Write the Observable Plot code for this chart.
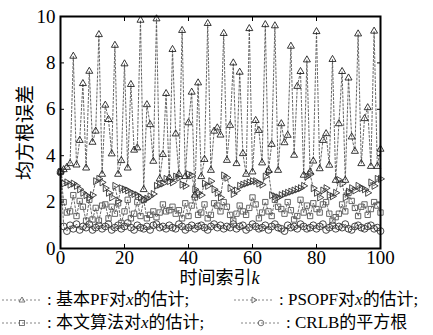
<!DOCTYPE html>
<html>
<head>
<meta charset="utf-8">
<script src="https://cdn.jsdelivr.net/npm/d3@7"></script>
<script src="https://cdn.jsdelivr.net/npm/@observablehq/plot@0.6"></script>
<style>
  body { margin: 0; background: #fff; }
  #wrap { width: 433px; font-family: "Liberation Serif", "Noto Sans CJK SC", serif; color: #000; }
  #xtitle { text-align: center; font-size: 18px; line-height: 20px; margin-top: -2px; padding-left: 6px; }
  .row { display: flex; font-size: 17px; line-height: 22px; height: 23px; white-space: nowrap; }
  .cell { display: flex; align-items: center; }
  .cell svg { margin-right: 3px; }
</style>
</head>
<body>
<div id="wrap">
  <div id="chart"></div>
  <div id="xtitle">时间索引<i>k</i></div>
  <div id="legend"></div>
</div>
<script>
const kIndex = d3.range(0, 101);
const xTicks = [0, 20, 40, 60, 80, 100];
const yTicks = [0, 2, 4, 6, 8, 10];
const seriesNames = ["基本PF对x的估计", "PSOPF对x的估计", "本文算法对x的估计", "CRLB的平方根"];

const pfValues = [3.3,3.4,3.5,3.66,8.29,3.6,4.66,7.11,3.47,7.64,
  4.58,5.06,9.22,3.2,6.18,5.56,4.08,8.76,3.2,3.79,
  7.96,3.47,7.07,4.24,4.34,9.84,2.54,6.2,5.34,3.76,
  9.9,3.0,4.05,6.68,3.05,8.58,4.94,3.2,9.4,3.1,
  5.42,6.74,2.3,7.14,3.1,3.84,9.7,3.37,5.06,5.2,
  4.89,9.27,3.8,5.31,8.0,3.66,7.6,4.09,3.2,9.48,
  3.3,5.52,5.09,3.69,9.65,3.37,4.49,9.6,3.37,5.38,
  4.56,4.88,8.72,4.02,6.99,7.63,3.16,8.13,3.3,3.77,
  9.35,3.44,4.66,4.95,3.59,8.15,2.94,5.38,7.63,2.94,
  7.35,4.81,4.19,9.25,3.66,5.6,6.07,3.54,9.37,3.54,4.28];

const psopfValues = [3.3,2.8,2.85,2.75,2.8,2.7,2.55,2.4,2.3,2.2,
  2.3,2.9,3.0,2.85,2.6,2.4,2.2,2.7,2.05,2.6,
  2.55,2.5,2.4,2.35,2.3,2.2,2.1,2.15,2.25,2.35,
  2.7,2.75,2.8,3.0,2.9,2.85,3.1,3.05,2.75,2.7,
  3.2,3.15,2.55,2.4,2.3,2.8,2.7,2.9,2.55,2.4,
  2.2,3.15,3.05,2.6,2.35,2.5,2.7,2.75,2.8,2.85,
  2.9,2.9,2.8,2.75,3.1,3.3,2.3,2.25,2.2,2.3,
  2.35,2.4,2.45,2.5,2.55,2.6,2.7,3.1,3.2,2.6,
  2.4,2.2,2.5,2.6,2.3,2.25,2.4,2.95,2.8,2.2,
  2.45,2.6,2.5,2.7,2.6,2.55,2.4,2.85,2.7,3.0,3.0];

const oursValues = [3.3,2.0,1.55,1.6,2.3,1.4,2.05,1.8,1.2,2.1,
  1.25,1.75,1.2,1.85,1.9,1.3,1.8,1.5,1.95,1.1,
  1.6,2.1,1.3,1.5,2.0,1.4,2.1,1.3,1.45,1.6,
  1.35,1.55,1.9,1.6,1.65,1.8,1.5,1.65,1.3,1.95,
  1.4,1.85,2.2,1.45,1.55,1.9,1.3,1.45,1.95,1.85,
  1.6,2.0,1.8,1.45,1.2,1.5,1.85,1.6,1.45,1.75,
  2.2,1.9,1.3,1.55,2.0,1.6,1.4,2.1,1.8,1.7,
  1.5,2.0,1.65,1.25,1.4,2.1,1.55,1.85,1.4,1.95,
  1.7,1.55,1.9,2.0,1.5,1.2,1.35,1.5,1.9,1.6,
  2.4,2.05,1.75,1.4,1.8,1.9,1.45,1.7,2.0,1.85,1.55];

const crlbValues = [3.3,0.95,0.75,1.0,0.85,1.05,0.8,0.95,0.9,1.05,
  0.8,0.9,1.0,0.85,0.95,1.05,0.8,0.9,1.0,0.85,
  0.95,1.1,0.9,0.8,1.0,0.9,0.85,0.95,0.8,1.0,
  1.05,0.9,0.95,0.85,1.0,0.9,0.85,1.05,0.95,0.8,
  0.9,1.0,0.85,0.95,1.0,0.9,0.8,0.95,1.05,0.9,
  1.0,0.85,0.95,0.9,1.05,0.85,0.95,1.0,0.8,0.9,
  1.05,0.95,0.85,0.9,1.0,0.8,0.95,1.05,0.9,0.85,
  0.75,1.0,0.9,0.95,0.85,1.05,0.95,0.85,0.9,1.0,
  0.85,0.95,1.05,0.8,0.9,1.0,0.85,0.95,0.9,1.05,
  0.85,0.8,0.95,1.0,0.9,0.85,0.95,1.0,0.85,0.9,0.75];

const rightTriangle = {
  draw(ctx, size) {
    const y = -Math.sqrt(size / (Math.sqrt(3) * 3));
    const s3 = Math.sqrt(3);
    ctx.moveTo(-2 * y, 0);
    ctx.lineTo(y, -s3 * y);
    ctx.lineTo(y, s3 * y);
    ctx.closePath();
  }
};

const seriesDefs = [
  {values: crlbValues, symbol: "circle", r: 3.4, stroke: "#333"},
  {values: oursValues, symbol: "square", r: 3.0, stroke: "#555"},
  {values: psopfValues, symbol: rightTriangle, r: 2.6, stroke: "#333"},
  {values: pfValues, symbol: "triangle", r: 2.6, stroke: "#222"}
];

const marks = [];
for (const s of seriesDefs) {
  const rows = kIndex.map((k, i) => ({k, v: s.values[i]}));
  marks.push(Plot.line(rows, {x: "k", y: "v", stroke: "#555", strokeWidth: 0.9, strokeDasharray: "2,2"}));
  marks.push(Plot.dot(rows, {x: "k", y: "v", symbol: s.symbol, r: s.r, stroke: s.stroke, strokeWidth: 0.9, fill: "none"}));
}

const chart = Plot.plot({
  width: 433,
  height: 270,
  marginLeft: 60,
  marginRight: 53,
  marginTop: 16,
  marginBottom: 22,
  style: {fontFamily: "'Liberation Serif', 'Noto Sans CJK SC', serif", fontSize: "19px", color: "#000", background: "#fff"},
  x: {domain: [0, 100]},
  y: {domain: [0, 10]},
  marks: [
    Plot.axisX(xTicks, {anchor: "bottom", tickSize: -4, tickPadding: 6, label: null, fontSize: 19}),
    Plot.axisX(xTicks, {anchor: "top", tickSize: -4, tickFormat: () => "", label: null}),
    Plot.axisY(yTicks, {anchor: "left", tickSize: -4, tickPadding: 9, fontSize: 19, label: "均方根误差", labelAnchor: "center", labelArrow: "none", labelOffset: 42}),
    Plot.axisY(yTicks, {anchor: "right", tickSize: -4, tickFormat: () => "", label: null}),
    ...marks,
    Plot.frame({stroke: "#000", strokeWidth: 2})
  ]
});
document.getElementById("chart").appendChild(chart);

// legend
function symSvg(kind) {
  const w = 44, h = 14;
  let m = "";
  const cx = 22, cy = 7;
  if (kind === 0) m = `<path d="M${cx},${cy-3} L${cx+3},${cy+2} L${cx-3},${cy+2}Z" fill="none" stroke="#555" stroke-width="0.8"/>`;
  if (kind === 1) m = `<path d="M${cx+3},${cy} L${cx-2},${cy-3} L${cx-2},${cy+3}Z" fill="none" stroke="#555" stroke-width="0.8"/>`;
  if (kind === 2) m = `<rect x="${cx-2.5}" y="${cy-2.5}" width="5" height="5" fill="none" stroke="#555" stroke-width="0.8"/>`;
  if (kind === 3) m = `<circle cx="${cx}" cy="${cy}" r="2.8" fill="none" stroke="#555" stroke-width="0.8"/>`;
  return `<svg width="${w}" height="${h}"><line x1="2" y1="${cy}" x2="${w-2}" y2="${cy}" stroke="#777" stroke-width="0.9" stroke-dasharray="2,2"/>${m}</svg>`;
}
function label(name) {
  return name.replace("x", "<i>x</i>");
}
const legend = document.getElementById("legend");
const suffix = ["；".replace("；", ";"), ";", ";", ""];
legend.innerHTML = `
<div class="row"><div class="cell" style="width:232px">${symSvg(0)}:&nbsp;${label(seriesNames[0])};</div>
<div class="cell">${symSvg(1)}:&nbsp;${label(seriesNames[1])};</div></div>
<div class="row"><div class="cell" style="width:239px">${symSvg(2)}:&nbsp;${label(seriesNames[2])};</div>
<div class="cell">${symSvg(3)}:&nbsp;${label(seriesNames[3])}</div></div>`;
</script>
</body>
</html>
